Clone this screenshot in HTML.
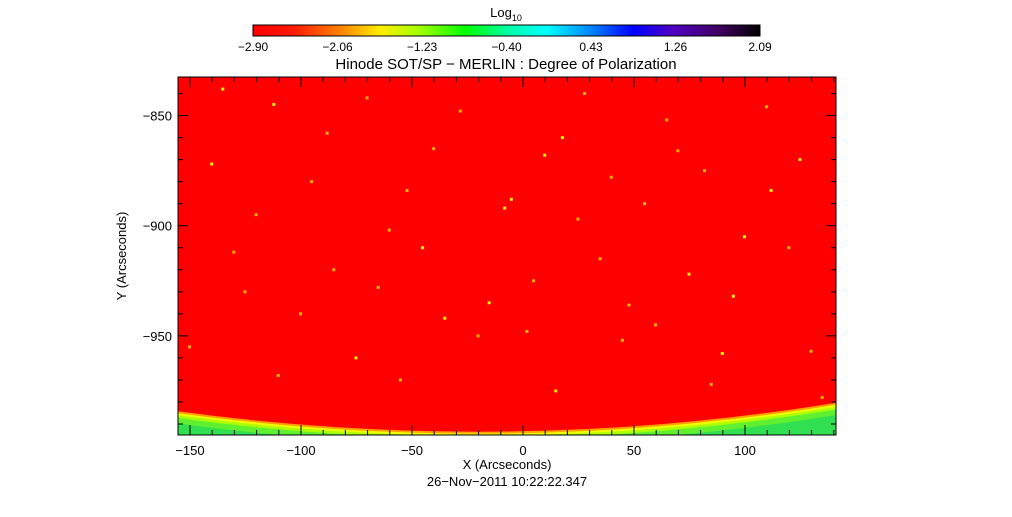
<!DOCTYPE html>
<html><head><meta charset="utf-8"><style>
body{margin:0;background:#fff;}
svg text{font-family:"Liberation Sans",sans-serif;fill:#000;}
</style></head><body>
<svg id="c" width="1012" height="512" xmlns="http://www.w3.org/2000/svg">
<defs>
<linearGradient id="cb" x1="0" x2="1" y1="0" y2="0">
<stop offset="0" stop-color="#ff0000"/><stop offset="0.08" stop-color="#ff1a00"/><stop offset="0.17" stop-color="#ff8000"/>
<stop offset="0.25" stop-color="#ffee00"/><stop offset="0.33" stop-color="#a0ff00"/><stop offset="0.42" stop-color="#00ff00"/>
<stop offset="0.5" stop-color="#00ffa0"/><stop offset="0.58" stop-color="#00ffff"/><stop offset="0.67" stop-color="#0080ff"/>
<stop offset="0.75" stop-color="#0000ff"/><stop offset="0.83" stop-color="#5000c0"/><stop offset="0.92" stop-color="#400060"/>
<stop offset="1" stop-color="#000000"/></linearGradient>
<clipPath id="pc"><rect x="178" y="77" width="658" height="358"/></clipPath>
</defs>
<g id="plot" clip-path="url(#pc)"></g>
<rect x="178" y="77" width="658" height="358" fill="none" stroke="#000" stroke-width="1"/>
<g id="axes"></g>
<rect x="253" y="25" width="507" height="11" fill="url(#cb)" stroke="#000" stroke-width="1"/>
<text x="506" y="17" font-size="13" text-anchor="middle">Log<tspan font-size="9" dy="4">10</tspan></text>
<g id="cbt"></g>
<text x="506" y="69" font-size="15" text-anchor="middle">Hinode SOT/SP − MERLIN : Degree of Polarization</text>
<text x="507" y="469" font-size="13" text-anchor="middle">X (Arcseconds)</text>
<text x="507" y="486" font-size="13" text-anchor="middle">26−Nov−2011 10:22:22.347</text>
<text transform="translate(126,256) rotate(-90)" font-size="13" text-anchor="middle">Y (Arcseconds)</text>
</svg>
<script>
const xTicks=[-150,-100,-50,0,50,100];
const yTicks=[-850,-900,-950];
const cbLabels=["−2.90","−2.06","−1.23","−0.40","0.43","1.26","2.09"];
const limbCenterX=-20;
const limbRadii=[1010,999,996.5,995.3,994.4,993.5];
const limbColors=["#30e050","#60f030","#b0ff00","#f0ff00","#ffa000","#ff0000"];
const spotX=[-112,-70,-28,18,65,110,-140,-95,-40,10,40,82,125,-120,-60,-5,25,55,100,-130,-85,-45,5,35,75,120,-100,-15,60,-150,-75,-20,45,90,130,-55,15,-110,85,-135,-88,-52,-8,28,70,112,-125,-65,-35,2,48,95,135];
const spotY=[-845,-842,-848,-860,-852,-846,-872,-880,-865,-868,-878,-875,-870,-895,-902,-888,-897,-890,-905,-912,-920,-910,-925,-915,-922,-910,-940,-935,-945,-955,-960,-950,-952,-958,-957,-970,-975,-968,-972,-838,-858,-884,-892,-840,-866,-884,-930,-928,-942,-948,-936,-932,-978];
const sNS="http://www.w3.org/2000/svg";
const X0=-155.4,X1=141,Y0=-832.5,Y1=-995;
const px=x=>178+(x-X0)/(X1-X0)*658, py=y=>77+(y-Y0)/(Y1-Y0)*358;
function mk(t,a,p){const e=document.createElementNS(sNS,t);for(const k in a)e.setAttribute(k,a[k]);(p||document.getElementById('c')).appendChild(e);return e;}
const plot=document.getElementById('plot'),axes=document.getElementById('axes');
const kx=658/(X1-X0),ky=358/(Y0-Y1);
limbRadii.forEach((r,i)=>{const e=mk('ellipse',{cx:px(limbCenterX),cy:py(0),rx:r*kx,ry:r*ky,fill:limbColors[i]},plot);

});
spotX.forEach((x,i)=>{const e=mk('rect',{x:px(x)-2,y:py(spotY[i])-1.5,width:3,height:3,fill:i%3?'#ffb000':'#ffee00'},plot);

});
for(let v=-150;v<=140;v+=10){const x=px(v),L=v%50===0?10:5;
const a=mk('line',{x1:x,x2:x,y1:435,y2:435-L,stroke:'#000'},axes);
const b=mk('line',{x1:x,x2:x,y1:77,y2:77+L,stroke:'#000'},axes);}
for(let v=-840;v>=-990;v-=10){const y=py(v),L=v%50===0?10:5;
const a=mk('line',{x1:178,x2:178+L,y1:y,y2:y,stroke:'#000'},axes);
const b=mk('line',{x1:836,x2:836-L,y1:y,y2:y,stroke:'#000'},axes);}
xTicks.forEach(v=>{const t=mk('text',{x:px(v),y:455,'font-size':13,'text-anchor':'middle'},axes);t.textContent=v<0?'−'+(-v):v;
});
yTicks.forEach(v=>{const t=mk('text',{x:172,y:py(v)+5,'font-size':13,'text-anchor':'end'},axes);t.textContent='−'+(-v);
});
cbLabels.forEach((s,i)=>{const t=mk('text',{x:253+i*507/6,y:51,'font-size':12,'text-anchor':'middle'},document.getElementById('cbt'));t.textContent=s;
});
</script>
</body></html>
